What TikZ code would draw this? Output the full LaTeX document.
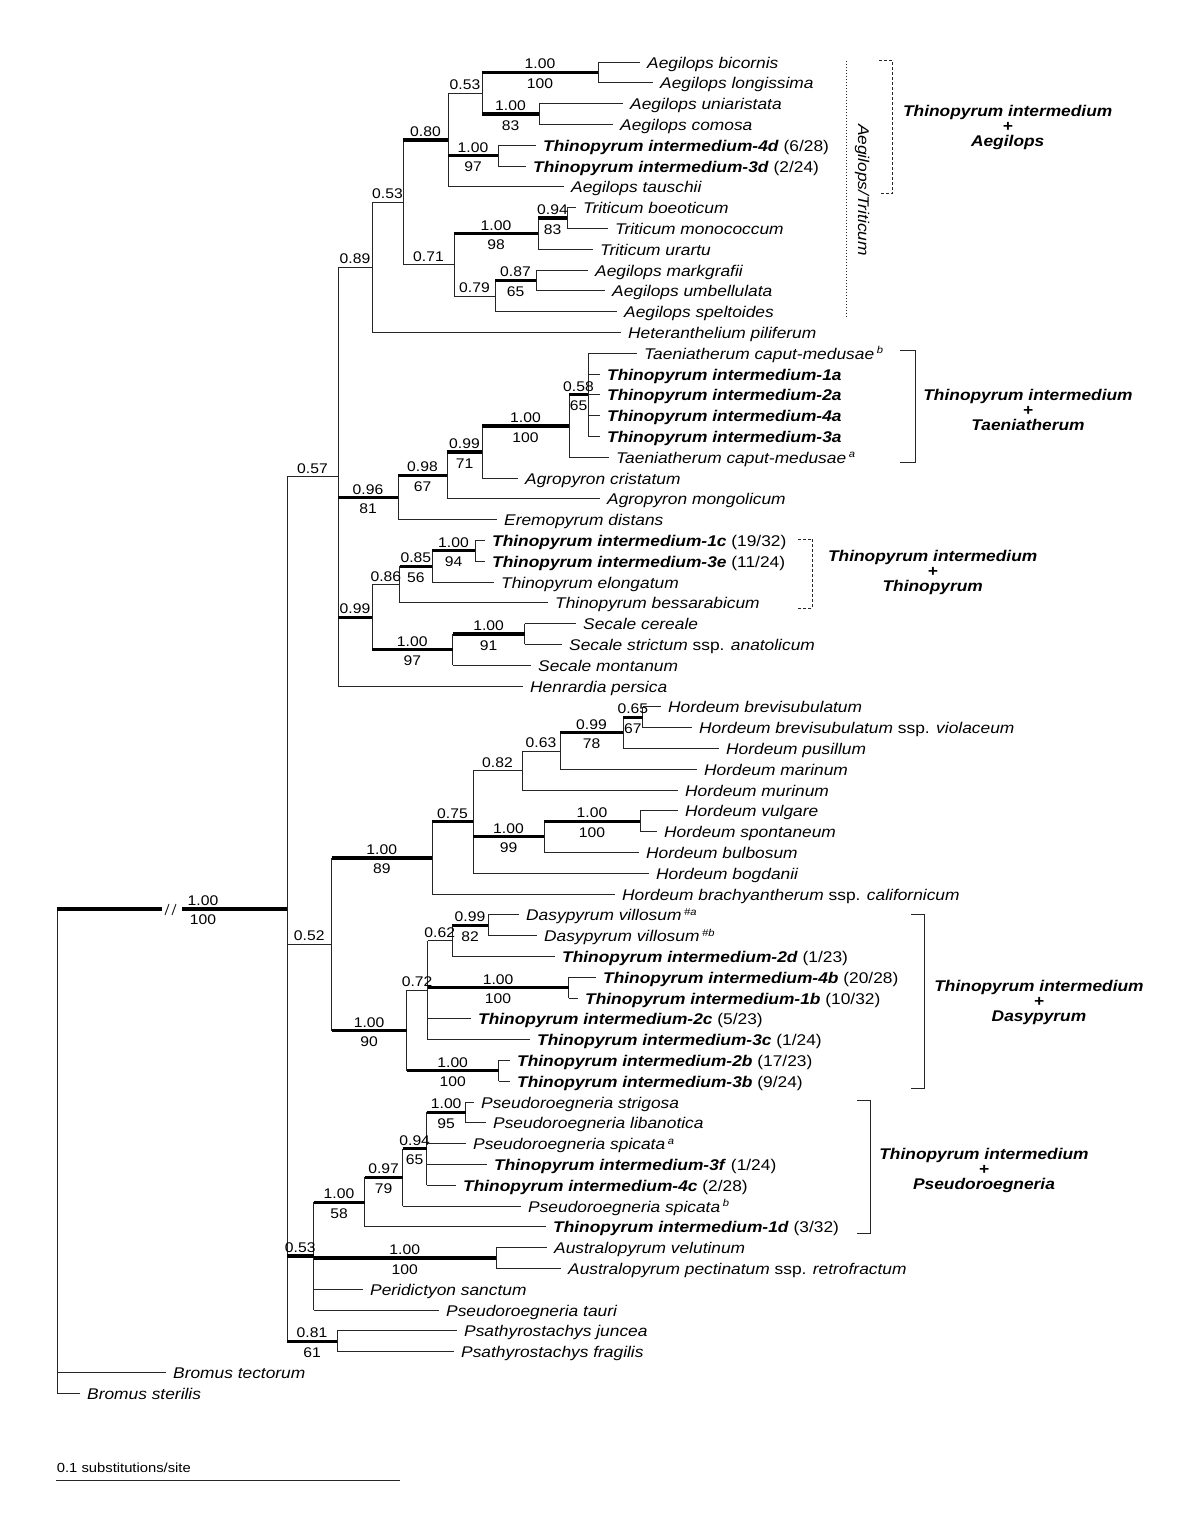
\documentclass[tikz,border=0pt]{standalone}
\usepackage{fontspec}
\setmainfont{Liberation Sans}[FakeStretch=1.12]
\usetikzlibrary{calc}
\newcommand\leaffont{\fontsize{15.5}{18}\selectfont}
\newcommand\supfont{\fontsize{14}{16}\selectfont}
\newcommand\grpfont{\fontsize{15.5}{15}\selectfont\bfseries\itshape}
\newcommand\barfont{\fontsize{13.2}{16}\selectfont}
\newcommand\Ti[1]{\textbf{\textit{Thinopyrum intermedium-#1}}}
\newcommand\sps[1]{\,\raisebox{5.5pt}{\fontsize{10}{10}\selectfont\itshape #1}}
\tikzset{
  thn/.style={line width=1pt, black!85},
  thk/.style={line width=3.2pt, black},
  lfn/.style={anchor=west, inner sep=0pt, text height=12pt, text depth=0pt, font=\leaffont, text=black},
  sa/.style={anchor=base, inner sep=0pt, yshift=3.5pt, font=\supfont, text=black},
  sb/.style={anchor=base, inner sep=0pt, yshift=-16pt, font=\supfont, text=black},
  grp/.style={align=center, inner sep=0pt, font=\grpfont, text=black},
  dsh/.style={line width=1pt, black!85, dash pattern=on 3pt off 2pt},
}
\newcommand\mkInode[4]{\path let \p1=($(#3)!0.5!(#4)$) in coordinate (#1) at (#2pt,\y1);
  \draw[thn] (#1 |- #3) -- (#1 |- #4);}
\newcommand\lbr[2]{\draw[thn] (#1 |- #2.west) -- ([xshift=-7pt]#2.west);}
\newcommand\tkb[4]{\draw[thk] (#1 |- #2) -- node[sa] (#2a) {#3} node[sb] (#2b) {#4} (#2);}
\newcommand\tka[3]{\draw[thk] (#1 |- #2) -- node[sa] (#2a) {#3} (#2);}
\newcommand\tna[3]{\draw[thn] (#1 |- #2) -- node[sa] (#2a) {#3} (#2);}
\begin{document}
\begin{tikzpicture}[x=1pt,y=-1pt]
\useasboundingbox[fill=white] (0,0) rectangle (1200,1540);
% ---------- leaves ----------
\node[lfn] (t1) at (647,62.0) {\textit{Aegilops bicornis}};
\node[lfn] (t2) at (660,82.8) {\textit{Aegilops longissima}};
\node[lfn] (t3) at (630,103.6) {\textit{Aegilops uniaristata}};
\node[lfn] (t4) at (620,124.4) {\textit{Aegilops comosa}};
\node[lfn] (t5) at (543,145.2) {\Ti{4d} (6/28)};
\node[lfn] (t6) at (533,166.0) {\Ti{3d} (2/24)};
\node[lfn] (t7) at (571,186.8) {\textit{Aegilops tauschii}};
\node[lfn] (t8) at (583,207.6) {\textit{Triticum boeoticum}};
\node[lfn] (t9) at (615,228.4) {\textit{Triticum monococcum}};
\node[lfn] (t10) at (600,249.2) {\textit{Triticum urartu}};
\node[lfn] (t11) at (595,270.0) {\textit{Aegilops markgrafii}};
\node[lfn] (t12) at (612,290.8) {\textit{Aegilops umbellulata}};
\node[lfn] (t13) at (624,311.6) {\textit{Aegilops speltoides}};
\node[lfn] (t14) at (628,332.4) {\textit{Heteranthelium piliferum}};
\node[lfn] (t15) at (644,353.2) {\textit{Taeniatherum caput-medusae}\sps{b}};
\node[lfn] (t16) at (607,374.0) {\Ti{1a}};
\node[lfn] (t17) at (607,394.8) {\Ti{2a}};
\node[lfn] (t18) at (607,415.6) {\Ti{4a}};
\node[lfn] (t19) at (607,436.4) {\Ti{3a}};
\node[lfn] (t20) at (616,457.2) {\textit{Taeniatherum caput-medusae}\sps{a}};
\node[lfn] (t21) at (525,478.0) {\textit{Agropyron cristatum}};
\node[lfn] (t22) at (607,498.8) {\textit{Agropyron mongolicum}};
\node[lfn] (t23) at (504,519.6) {\textit{Eremopyrum distans}};
\node[lfn] (t24) at (492,540.4) {\Ti{1c} (19/32)};
\node[lfn] (t25) at (492,561.2) {\Ti{3e} (11/24)};
\node[lfn] (t26) at (501,582.0) {\textit{Thinopyrum elongatum}};
\node[lfn] (t27) at (555,602.8) {\textit{Thinopyrum bessarabicum}};
\node[lfn] (t28) at (583,623.6) {\textit{Secale cereale}};
\node[lfn] (t29) at (569,644.4) {\textit{Secale strictum} ssp. \textit{anatolicum}};
\node[lfn] (t30) at (538,665.2) {\textit{Secale montanum}};
\node[lfn] (t31) at (530,686.0) {\textit{Henrardia persica}};
\node[lfn] (t32) at (668,706.8) {\textit{Hordeum brevisubulatum}};
\node[lfn] (t33) at (699,727.6) {\textit{Hordeum brevisubulatum} ssp. \textit{violaceum}};
\node[lfn] (t34) at (726,748.4) {\textit{Hordeum pusillum}};
\node[lfn] (t35) at (704,769.2) {\textit{Hordeum marinum}};
\node[lfn] (t36) at (685,790.0) {\textit{Hordeum murinum}};
\node[lfn] (t37) at (685,810.8) {\textit{Hordeum vulgare}};
\node[lfn] (t38) at (664,831.6) {\textit{Hordeum spontaneum}};
\node[lfn] (t39) at (646,852.4) {\textit{Hordeum bulbosum}};
\node[lfn] (t40) at (656,873.2) {\textit{Hordeum bogdanii}};
\node[lfn] (t41) at (622,894.0) {\textit{Hordeum brachyantherum} ssp. \textit{californicum}};
\node[lfn] (t42) at (526,914.8) {\textit{Dasypyrum villosum}\sps{\#a}};
\node[lfn] (t43) at (544,935.6) {\textit{Dasypyrum villosum}\sps{\#b}};
\node[lfn] (t44) at (562,956.4) {\Ti{2d} (1/23)};
\node[lfn] (t45) at (603,977.2) {\Ti{4b} (20/28)};
\node[lfn] (t46) at (585,998.0) {\Ti{1b} (10/32)};
\node[lfn] (t47) at (478,1018.8) {\Ti{2c} (5/23)};
\node[lfn] (t48) at (537,1039.6) {\Ti{3c} (1/24)};
\node[lfn] (t49) at (517,1060.4) {\Ti{2b} (17/23)};
\node[lfn] (t50) at (517,1081.2) {\Ti{3b} (9/24)};
\node[lfn] (t51) at (481,1102.0) {\textit{Pseudoroegneria strigosa}};
\node[lfn] (t52) at (493,1122.8) {\textit{Pseudoroegneria libanotica}};
\node[lfn] (t53) at (473,1143.6) {\textit{Pseudoroegneria spicata}\sps{a}};
\node[lfn] (t54) at (494,1164.4) {\Ti{3f} (1/24)};
\node[lfn] (t55) at (463,1185.2) {\Ti{4c} (2/28)};
\node[lfn] (t56) at (528,1206.0) {\textit{Pseudoroegneria spicata}\sps{b}};
\node[lfn] (t57) at (553,1226.8) {\Ti{1d} (3/32)};
\node[lfn] (t58) at (554,1247.6) {\textit{Australopyrum velutinum}};
\node[lfn] (t59) at (568,1268.4) {\textit{Australopyrum pectinatum} ssp. \textit{retrofractum}};
\node[lfn] (t60) at (370,1289.2) {\textit{Peridictyon sanctum}};
\node[lfn] (t61) at (446,1310.0) {\textit{Pseudoroegneria tauri}};
\node[lfn] (t62) at (464,1330.8) {\textit{Psathyrostachys juncea}};
\node[lfn] (t63) at (461,1351.6) {\textit{Psathyrostachys fragilis}};
\node[lfn] (t64) at (173,1372.4) {\textit{Bromus tectorum}};
\node[lfn] (t65) at (87,1393.2) {\textit{Bromus sterilis}};
% ---------- Aegilops / Triticum ----------
\mkInode{nA1}{598}{t1.west}{t2.west} \lbr{nA1}{t1} \lbr{nA1}{t2}
\mkInode{nA2}{539}{t3.west}{t4.west} \lbr{nA2}{t3} \lbr{nA2}{t4}
\mkInode{nA3}{482}{nA1}{nA2} \tkb{nA3}{nA1}{1.00}{100} \tkb{nA3}{nA2}{1.00}{83}
\mkInode{nA4}{498}{t5.west}{t6.west} \lbr{nA4}{t5} \lbr{nA4}{t6}
\mkInode{nA5}{448}{nA3}{t7.west} \tna{nA5}{nA3}{0.53} \tkb{nA5}{nA4}{1.00}{97} \lbr{nA5}{t7}
\mkInode{nT1}{567}{t8.west}{t9.west} \lbr{nT1}{t8} \lbr{nT1}{t9}
\mkInode{nT2}{538}{nT1}{t10.west} \tkb{nT2}{nT1}{0.94}{83} \lbr{nT2}{t10}
\mkInode{nA6}{536}{t11.west}{t12.west} \lbr{nA6}{t11} \lbr{nA6}{t12}
\mkInode{nA7}{495}{nA6}{t13.west} \tkb{nA7}{nA6}{0.87}{65} \lbr{nA7}{t13}
\mkInode{nA8}{454}{nT2}{nA7} \tkb{nA8}{nT2}{1.00}{98} \tna{nA8}{nA7}{0.79}
\mkInode{nA9}{403}{nA5}{nA8} \tka{nA9}{nA5}{0.80} \tna{nA9}{nA8}{0.71}
\mkInode{nA10}{372}{nA9}{t14.west} \tna{nA10}{nA9}{0.53} \lbr{nA10}{t14}
% ---------- Taeniatherum etc ----------
\mkInode{nB1}{588}{t15.west}{t19.west} \lbr{nB1}{t15} \lbr{nB1}{t16} \lbr{nB1}{t17} \lbr{nB1}{t18} \lbr{nB1}{t19}
\mkInode{nB2}{569}{nB1}{t20.west} \tkb{nB2}{nB1}{0.58}{65} \lbr{nB2}{t20}
\mkInode{nB3}{482}{nB2}{t21.west} \tkb{nB3}{nB2}{1.00}{100} \lbr{nB3}{t21}
\mkInode{nB4}{447}{nB3}{t22.west} \tkb{nB4}{nB3}{0.99}{71} \lbr{nB4}{t22}
\mkInode{nB5}{398}{nB4}{t23.west} \tkb{nB5}{nB4}{0.98}{67} \lbr{nB5}{t23}
\mkInode{nC1}{475}{t24.west}{t25.west} \lbr{nC1}{t24} \lbr{nC1}{t25}
\mkInode{nC2}{432}{nC1}{t26.west} \tkb{nC2}{nC1}{1.00}{94} \lbr{nC2}{t26}
\mkInode{nC3}{399.6}{nC2}{t27.west} \tkb{nC3}{nC2}{0.85}{56} \lbr{nC3}{t27}
\mkInode{nD1}{524.6}{t28.west}{t29.west} \lbr{nD1}{t28} \lbr{nD1}{t29}
\mkInode{nD2}{452.5}{nD1}{t30.west} \tkb{nD2}{nD1}{1.00}{91} \lbr{nD2}{t30}
\mkInode{nD3}{372}{nC3}{nD2} \tna{nD3}{nC3}{0.86} \tkb{nD3}{nD2}{1.00}{97}
\mkInode{nE}{338}{nA10}{t31.west} \tna{nE}{nA10}{0.89} \tkb{nE}{nB5}{0.96}{81} \tka{nE}{nD3}{0.99} \lbr{nE}{t31}
% ---------- Hordeum ----------
\mkInode{nH1}{642.6}{t32.west}{t33.west} \lbr{nH1}{t32} \lbr{nH1}{t33}
\mkInode{nH2}{623}{nH1}{t34.west} \tkb{nH2}{nH1}{0.65}{67} \lbr{nH2}{t34}
\mkInode{nH3}{560}{nH2}{t35.west} \tkb{nH3}{nH2}{0.99}{78} \lbr{nH3}{t35}
\mkInode{nH4}{522}{nH3}{t36.west} \tna{nH4}{nH3}{0.63} \lbr{nH4}{t36}
\mkInode{nH5}{640}{t37.west}{t38.west} \lbr{nH5}{t37} \lbr{nH5}{t38}
\mkInode{nH6}{544}{nH5}{t39.west} \tkb{nH6}{nH5}{1.00}{100} \lbr{nH6}{t39}
\mkInode{nH7}{473}{nH4}{t40.west} \tna{nH7}{nH4}{0.82} \tkb{nH7}{nH6}{1.00}{99} \lbr{nH7}{t40}
\mkInode{nH8}{432}{nH7}{t41.west} \tka{nH8}{nH7}{0.75} \lbr{nH8}{t41}
% ---------- Dasypyrum ----------
\mkInode{nS1}{488}{t42.west}{t43.west} \lbr{nS1}{t42} \lbr{nS1}{t43}
\mkInode{nS2}{452}{nS1}{t44.west} \tkb{nS2}{nS1}{0.99}{82} \lbr{nS2}{t44}
\mkInode{nS3}{568.6}{t45.west}{t46.west} \lbr{nS3}{t45} \lbr{nS3}{t46}
\mkInode{nS4}{427.5}{nS2}{t48.west} \tna{nS4}{nS2}{0.62} \tkb{nS4}{nS3}{1.00}{100} \lbr{nS4}{t47} \lbr{nS4}{t48}
\mkInode{nS5}{498.6}{t49.west}{t50.west} \lbr{nS5}{t49} \lbr{nS5}{t50}
\mkInode{nS6}{406.8}{nS4}{nS5} \tna{nS6}{nS4}{0.72} \tkb{nS6}{nS5}{1.00}{100}
\mkInode{nF}{331.5}{nH8}{nS6} \tkb{nF}{nH8}{1.00}{89} \tkb{nF}{nS6}{1.00}{90}
% ---------- Pseudoroegneria ----------
\mkInode{nP1}{465.7}{t51.west}{t52.west} \lbr{nP1}{t51} \lbr{nP1}{t52}
\mkInode{nP2}{426.7}{nP1}{t55.west} \tkb{nP2}{nP1}{1.00}{95} \lbr{nP2}{t53} \lbr{nP2}{t54} \lbr{nP2}{t55}
\mkInode{nP3}{402.7}{nP2}{t56.west} \tkb{nP3}{nP2}{0.94}{65} \lbr{nP3}{t56}
\mkInode{nP4}{364.5}{nP3}{t57.west} \tkb{nP4}{nP3}{0.97}{79} \lbr{nP4}{t57}
\mkInode{nP5}{496}{t58.west}{t59.west} \lbr{nP5}{t58} \lbr{nP5}{t59}
\mkInode{nP6}{313.5}{nP4}{t61.west} \tkb{nP6}{nP4}{1.00}{58} \tkb{nP6}{nP5}{1.00}{100} \lbr{nP6}{t60} \lbr{nP6}{t61}
\mkInode{nQ}{337}{t62.west}{t63.west} \lbr{nQ}{t62} \lbr{nQ}{t63}
% ---------- backbone ----------
\mkInode{nR}{287}{nE}{nQ} \tna{nR}{nE}{0.57} \tna{nR}{nF}{0.52} \tka{nR}{nP6}{0.53} \tkb{nR}{nQ}{0.81}{61}
\mkInode{rt}{57}{nR}{t65.west} \lbr{rt}{t64} \lbr{rt}{t65}
\coordinate (brkL) at ($(rt |- nR)+(105,0)$);
\coordinate (brkR) at ($(nR)+(-105,0)$);
\draw[thk] (rt |- nR) -- (brkL);
\draw[thk] (brkR) -- (nR);
\draw[thn] ($(brkL)+(3,6)$) -- ($(brkL)+(7,-5)$);
\draw[thn] ($(brkL)+(10,6)$) -- ($(brkL)+(14,-5)$);
\node[sa] (rta) at ($(brkR)+(21,0)$) {1.00};
\node[sb] (rtb) at ($(brkR)+(21,0)$) {100};
% ---------- right-side annotations ----------
\coordinate (dT) at (846,60.7); \coordinate (dB) at (846,318);
\draw[thn, dotted] (dT) -- (dB);
\node[rotate=-90, inner sep=0pt, font=\leaffont\itshape] (gAT) at (862,190) {Aegilops/Triticum};
\draw[dsh] (879,60.7) -- (892.7,60.7) -- (892.7,193) -- (879,193);
\node[grp] (g1) at (1007.7,127) {Thinopyrum intermedium\\+\\Aegilops};
\draw[thn] (900,350.7) -- (915,350.7) -- (915,462.7) -- (900,462.7);
\node[grp] (g2) at (1028,410) {Thinopyrum intermedium\\+\\Taeniatherum};
\draw[dsh] (798,539) -- (812.7,539) -- (812.7,608) -- (798,608);
\node[grp] (g3) at (932.7,572) {Thinopyrum intermedium\\+\\Thinopyrum};
\draw[thn] (911,914) -- (924,914) -- (924,1088) -- (911,1088);
\node[grp] (g4) at (1039,1002) {Thinopyrum intermedium\\+\\Dasypyrum};
\draw[thn] (857,1100) -- (870,1100) -- (870,1233) -- (857,1233);
\node[grp] (g5) at (984,1170) {Thinopyrum intermedium\\+\\Pseudoroegneria};
% ---------- scale bar ----------
\node[anchor=base west, inner sep=0pt, font=\barfont] (sbt) at (56.7,1472.7) {0.1 substitutions/site};
\coordinate (sbl) at (56,1480.7); \coordinate (sbr) at (400,1480.7);
\draw[thn] (sbl) -- (sbr);
\end{tikzpicture}
\end{document}
